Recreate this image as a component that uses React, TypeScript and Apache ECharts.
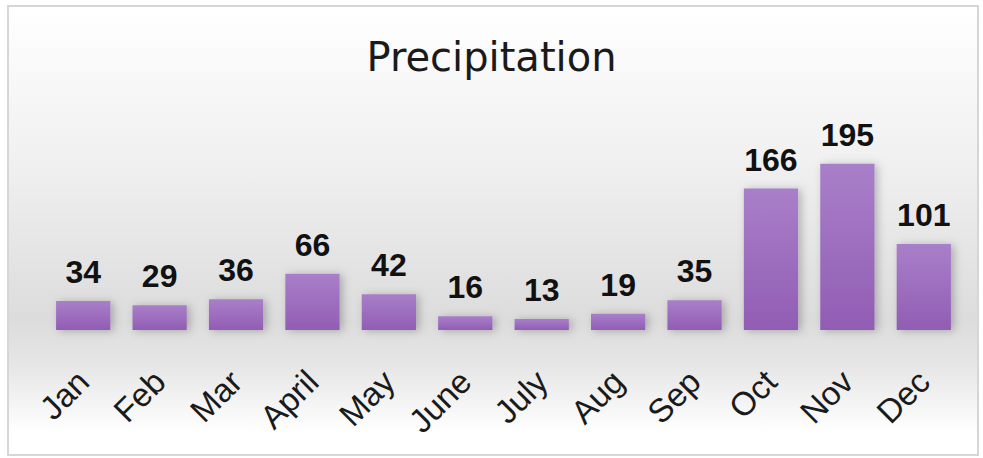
import React, { useEffect, useRef } from "react";
import * as echarts from "echarts";

const titleText = "Precipitation";
const months = ["Jan", "Feb", "Mar", "April", "May", "June", "July", "Aug", "Sep", "Oct", "Nov", "Dec"];
const precipitation = [34, 29, 36, 66, 42, 16, 13, 19, 35, 166, 195, 101];

const TITLE_FONT = "'DejaVu Sans', sans-serif";
const FONT = "'Liberation Sans', Arial, sans-serif";

export default function App() {
  const ref = useRef<HTMLDivElement>(null);
  useEffect(() => {
    if (!ref.current) return;
    const chart = echarts.init(ref.current, undefined, { renderer: "svg" });
    chart.setOption({
      animation: false,
      backgroundColor: "#ffffff",
      graphic: [
        {
          type: "rect",
          z: -10,
          silent: true,
          shape: { x: 8, y: 6, width: 970, height: 449 },
          style: {
            fill: {
              type: "linear", x: 0, y: 0, x2: 0, y2: 1,
              colorStops: [
                { offset: 0, color: "#ffffff" },
                { offset: 0.35, color: "#f0f0f0" },
                { offset: 0.7, color: "#dcdcdc" },
                { offset: 0.8, color: "#e6e6e6" },
                { offset: 0.95, color: "#ffffff" },
                { offset: 1, color: "#ffffff" },
              ],
            },
            stroke: "#d6d6d6",
            lineWidth: 2,
          },
        },
      ],
      title: {
        text: titleText,
        left: "center",
        top: 32,
        textStyle: { fontFamily: TITLE_FONT, fontSize: 40, fontWeight: "normal", color: "#1a1a1a" },
      },
      grid: { left: 45, right: 21, top: 117, bottom: 128, containLabel: false },
      xAxis: {
        type: "category",
        data: months,
        axisLine: { show: false },
        axisTick: { show: false },
        axisLabel: {
          rotate: 45,
          margin: 46,
          fontFamily: FONT,
          fontSize: 33,
          color: "#1a1a1a",
        },
      },
      yAxis: {
        type: "value",
        min: 0,
        max: 250,
        show: false,
        splitLine: { show: false },
      },
      series: [
        {
          type: "bar",
          data: precipitation,
          barWidth: "71%",
          itemStyle: {
            color: {
              type: "linear", x: 0, y: 0, x2: 0, y2: 1,
              colorStops: [
                { offset: 0, color: "#a97fc9" },
                { offset: 1, color: "#915db4" },
              ],
            },
            shadowBlur: 8,
            shadowColor: "rgba(0,0,0,0.25)",
            shadowOffsetX: 3,
            shadowOffsetY: 1,
          },
          label: {
            show: true,
            position: "top",
            distance: 13,
            fontFamily: FONT,
            fontSize: 32,
            fontWeight: "bold",
            color: "#111",
          },
        },
      ],
    });
    return () => chart.dispose();
  }, []);
  return <div ref={ref} style={{ position: "fixed", left: 0, top: 0, width: 983, height: 458 }} />;
}
